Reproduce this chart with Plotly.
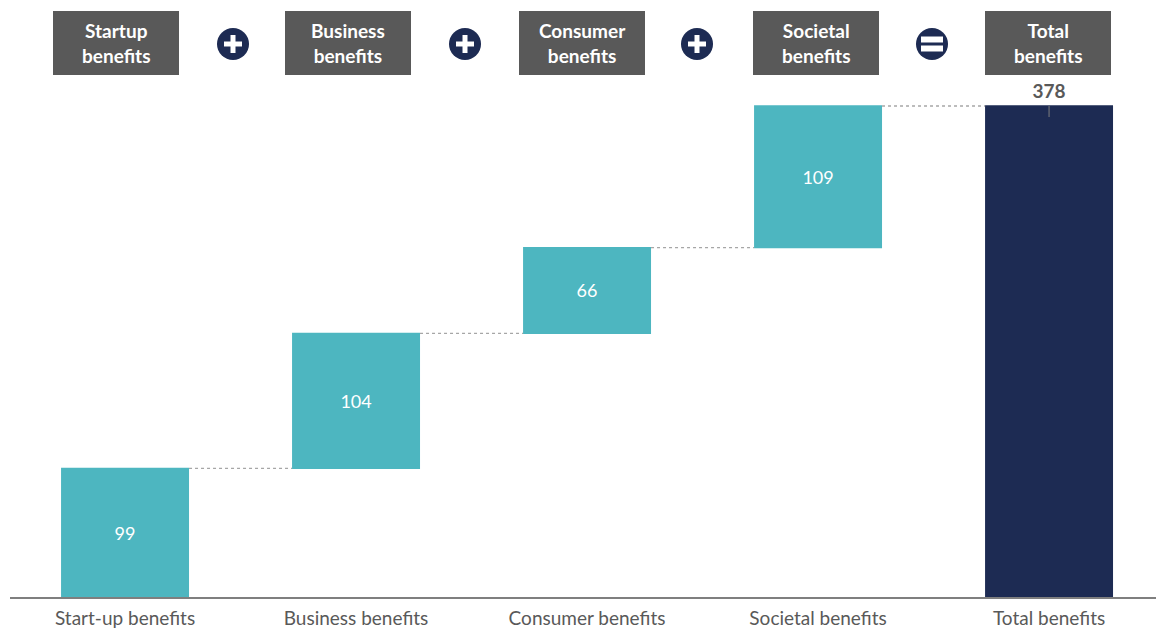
import plotly.graph_objects as go

# ---- data ----
categories = ["Start-up benefits", "Business benefits", "Consumer benefits",
              "Societal benefits", "Total benefits"]
values = [99, 104, 66, 109, 378]
measures = ["relative", "relative", "relative", "relative", "total"]
header_labels = ["Startup<br>benefits", "Business<br>benefits", "Consumer<br>benefits",
                 "Societal<br>benefits", "Total<br>benefits"]
operators = ["+", "+", "+", "="]

# ---- styling ----
TEAL = "#4db6c0"
NAVY = "#1d2b53"
GREY_BOX = "#595959"
TEXT_GREY = "#595959"
FONT = "Lato"

W, H = 1156, 630
ML, MR, MT, MB = 10, 0, 85, 33
PW, PH = W - ML - MR, H - MT - MB


def px(x):
    return (x - ML) / PW


def py(y):
    return (H - MB - y) / PH


texts = [str(v) if m == "relative" else "<b>%d</b>" % v for v, m in zip(values, measures)]
textpos = ["inside" if m == "relative" else "outside" for m in measures]

fig = go.Figure(go.Waterfall(
    x=categories,
    y=values,
    measure=measures,
    text=texts,
    texttemplate="%{text}",
    textposition=textpos,
    insidetextanchor="middle",
    insidetextfont=dict(color="white", size=18, family=FONT),
    outsidetextfont=dict(color=TEXT_GREY, size=19, family=FONT),
    increasing=dict(marker=dict(color=TEAL, line=dict(width=0))),
    totals=dict(marker=dict(color=NAVY, line=dict(width=0))),
    connector=dict(mode="between", line=dict(color="#a6a6a6", width=1.3, dash="dot")),
    width=[0.554] * len(categories),
    cliponaxis=False,
    hoverinfo="skip",
))

shapes = []
annotations = []

# header boxes
box_centers = [116, 348, 582, 816, 1048]
box_w = 126
for cx, lab in zip(box_centers, header_labels):
    shapes.append(dict(type="rect", xref="paper", yref="paper",
                       x0=px(cx - box_w / 2), x1=px(cx + box_w / 2),
                       y0=py(75), y1=py(11),
                       fillcolor=GREY_BOX, line=dict(width=0), layer="above"))
    annotations.append(dict(xref="paper", yref="paper", x=px(cx), y=py(43),
                            text="<b>%s</b>" % lab, showarrow=False,
                            font=dict(color="white", size=19, family=FONT),
                            xanchor="center", yanchor="middle", align="center"))

# operator circles
op_centers = [233, 465, 697, 932]
for cx, op in zip(op_centers, operators):
    shapes.append(dict(type="circle", xref="paper", yref="paper",
                       xsizemode="pixel", ysizemode="pixel",
                       xanchor=px(cx), yanchor=py(44),
                       x0=-16, x1=16, y0=-16, y1=16,
                       fillcolor=NAVY, line=dict(width=0), layer="above"))
    if op == "+":
        shapes.append(dict(type="rect", xref="paper", yref="paper",
                           xsizemode="pixel", ysizemode="pixel",
                           xanchor=px(cx), yanchor=py(44),
                           x0=-9, x1=9, y0=-2.5, y1=2.5,
                           fillcolor="white", line=dict(width=0), layer="above"))
        shapes.append(dict(type="rect", xref="paper", yref="paper",
                           xsizemode="pixel", ysizemode="pixel",
                           xanchor=px(cx), yanchor=py(44),
                           x0=-2.5, x1=2.5, y0=-9, y1=9,
                           fillcolor="white", line=dict(width=0), layer="above"))
    else:
        for dy in (4.5, -4.5):
            shapes.append(dict(type="rect", xref="paper", yref="paper",
                               xsizemode="pixel", ysizemode="pixel",
                               xanchor=px(cx), yanchor=py(44),
                               x0=-11, x1=11, y0=dy - 3, y1=dy + 3,
                               fillcolor="white", line=dict(width=0), layer="above"))

# small tick at top of total bar
shapes.append(dict(type="line", xref="x", yref="y",
                   ysizemode="pixel", yanchor=values[-1],
                   x0=categories[-1], x1=categories[-1], y0=0, y1=-11,
                   line=dict(color="#7f7f7f", width=1), layer="above"))

fig.update_layout(
    width=W, height=H,
    margin=dict(l=ML, r=MR, t=MT, b=MB),
    paper_bgcolor="white", plot_bgcolor="white",
    showlegend=False,
    shapes=shapes, annotations=annotations,
    xaxis=dict(range=[-0.498, 4.463], showline=True, linecolor="#7f7f7f", linewidth=1.5,
               showgrid=False, zeroline=False, ticks="",
               tickfont=dict(size=19, color=TEXT_GREY, family=FONT),
               ticklabelstandoff=3),
    yaxis=dict(range=[0, PH / (491 / 378)], visible=False, showgrid=False, zeroline=False),
    font=dict(family=FONT),
)

fig.write_html("out.html")
